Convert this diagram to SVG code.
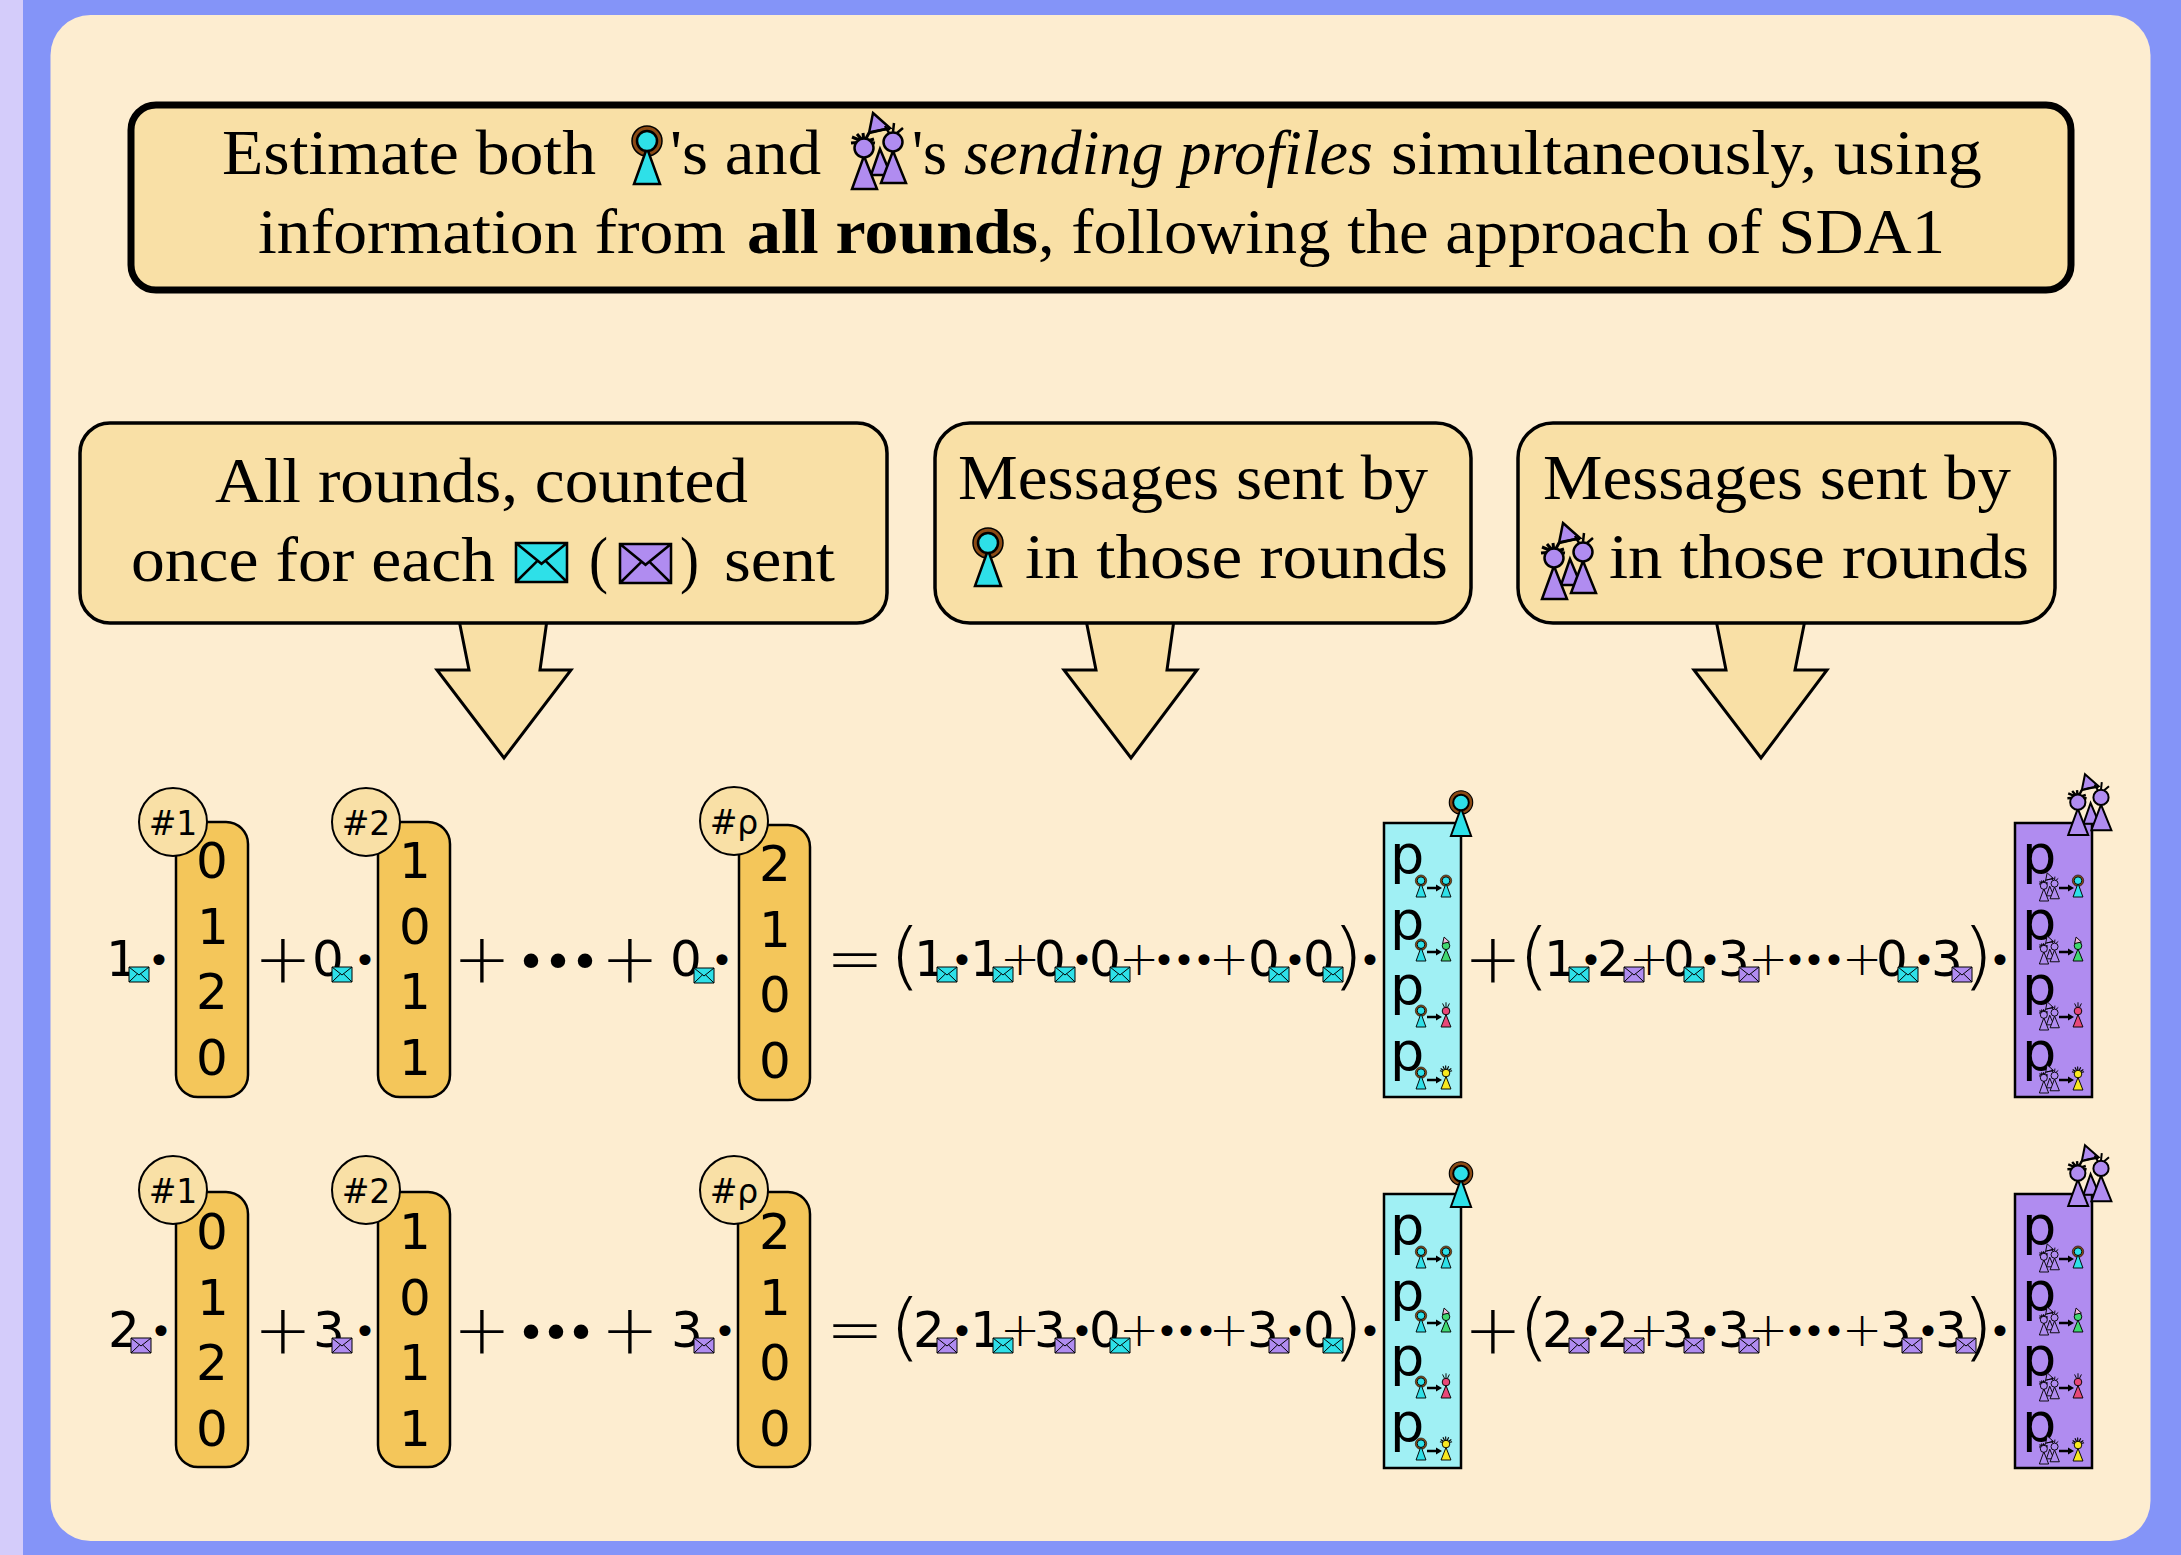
<svg xmlns="http://www.w3.org/2000/svg" xmlns:xlink="http://www.w3.org/1999/xlink" width="2181" height="1555" viewBox="0 0 2181 1555">
<style>
.s{font-family:"Liberation Serif",serif;font-size:64px;fill:#000}
.m{font-family:"DejaVu Sans",sans-serif;font-size:50px;fill:#000;text-anchor:middle}
.h{font-family:"DejaVu Sans",sans-serif;font-size:33px;fill:#000;text-anchor:middle}
.p{font-family:"DejaVu Sans",sans-serif;font-size:54px;fill:#000}
.d{font-family:"DejaVu Sans",sans-serif;font-size:38px;fill:#000;text-anchor:middle}
.e{font-family:"DejaVu Sans",sans-serif;font-size:50px;fill:#000;text-anchor:middle}
.pl{font-family:"DejaVu Sans",sans-serif;font-weight:200;font-size:69px;fill:#000;text-anchor:middle}
.sp{font-family:"DejaVu Sans",sans-serif;font-weight:200;font-size:48px;fill:#000;text-anchor:middle}
.br{font-family:"DejaVu Sans",sans-serif;font-weight:200;font-size:73px;fill:#000;text-anchor:middle}
.box{fill:#F9E0A6;stroke:#000;stroke-width:3.5}
.arw{fill:#F9E0A6;stroke:#000;stroke-width:3}
.bar{fill:#F4C65A;stroke:#000;stroke-width:2.5}
.tag{fill:#F9E0A6;stroke:#000;stroke-width:2}
.ln{stroke:#000;stroke-width:2.5;stroke-linejoin:miter}
.hr{stroke:#000;stroke-width:3;fill:none}
.cy{fill:#2EE0E8}.pu{fill:#B08CF0}
</style>
<defs>
<g id="env-l"><path d="M0 0H20V15H0ZM0 0L10 8L20 0M0 15L8.500 6.800M20 15L11.500 6.800" fill="none" stroke="#000" stroke-width="1"/></g>
<g id="envc"><rect width="20" height="15" class="cy"/><use xlink:href="#env-l"/></g>
<g id="envp"><rect width="20" height="15" class="pu"/><use xlink:href="#env-l"/></g>
<g id="alice"><circle cy="-43" r="15" fill="#8B4A14" stroke="#000" stroke-width="1.500"/><path d="M0 -36L-13 0H13Z" class="cy ln"/><circle cy="-43" r="10" class="cy ln"/></g>
<g id="green"><path d="M0 -32L-13 0H13Z" fill="#40D870" class="ln"/><circle cy="-40" r="10" fill="#40D870" class="ln"/><path d="M-5 -63L9 -50L-9 -46Z" fill="#F0B8D8" class="ln"/></g>
<g id="red"><path d="M0 -33L-13 0H13Z" fill="#E84878" class="ln"/><circle cy="-42" r="10" fill="#E84878" class="ln"/><path d="M-4 -52L-9 -62M4 -52L9 -62M0 -52V-65" class="ln" fill="none"/></g>
<g id="yellow"><path d="M0 -44L-16 -48M0 -44L-14 -54M0 -44L-8 -60M0 -44L-1 -62M0 -44L7 -60M0 -44L14 -54M0 -44L16 -48" class="hr"/><path d="M0 -33L-13 0H13Z" fill="#F8E820" class="ln"/><circle cy="-42" r="10" fill="#F8E820" class="ln"/></g>
<g id="trio">
<path d="M2 -40L-7 -14H13Z" class="pu ln"/><path d="M-5 -76L12 -61L-9 -56Z" class="pu ln"/><path d="M-7 -57Q6 -60 12 -60" class="ln" fill="none"/>
<path d="M-14 -47L-27 -46M-14 -47L-26 -52M-14 -47L-21 -55M-14 -47L-15 -56M-14 -47L-9 -56M-14 -47L-4 -50M-14 -47L-3 -46" class="hr"/>
<path d="M-14 -33L-26 0H-1Z" class="pu ln"/><circle cx="-14" cy="-41" r="9.500" class="pu ln"/>
<path d="M11 -56L7 -63M19 -56L25 -61M15 -57L16 -66" class="ln" fill="none"/>
<path d="M15 -38L3 -6H28Z" class="pu ln"/><circle cx="15" cy="-47" r="9.500" class="pu ln"/>
</g>
<g id="ar"><path d="M0 0H10" class="ln"/><path d="M9 -3.500L15 0L9 3.500Z"/></g>
<g id="cybox">
<rect x="1384" y="823" width="77" height="274" fill="#A0F0F4" stroke="#000" stroke-width="2.500"/>
<use xlink:href="#alice" transform="translate(1461 836) scale(.78)"/>
<text class="p" x="1390" y="873">p</text><text class="p" x="1390" y="939">p</text><text class="p" x="1390" y="1004">p</text><text class="p" x="1390" y="1070">p</text>
<use xlink:href="#alice" transform="translate(1421 897) scale(.38)"/><use xlink:href="#ar" x="1427" y="888"/><use xlink:href="#alice" transform="translate(1446 897) scale(.38)"/>
<use xlink:href="#alice" transform="translate(1421 961) scale(.38)"/><use xlink:href="#ar" x="1427" y="952"/><use xlink:href="#green" transform="translate(1446 961) scale(.38)"/>
<use xlink:href="#alice" transform="translate(1421 1027) scale(.38)"/><use xlink:href="#ar" x="1427" y="1017"/><use xlink:href="#red" transform="translate(1446 1027) scale(.38)"/>
<use xlink:href="#alice" transform="translate(1421 1089) scale(.38)"/><use xlink:href="#ar" x="1427" y="1080"/><use xlink:href="#yellow" transform="translate(1446 1089) scale(.38)"/>
</g>
<g id="pubox">
<rect x="2015" y="823" width="77" height="274" class="pu" stroke="#000" stroke-width="2.500"/>
<use xlink:href="#trio" transform="translate(2089 835) scale(.8)"/>
<text class="p" x="2022" y="873">p</text><text class="p" x="2022" y="939">p</text><text class="p" x="2022" y="1004">p</text><text class="p" x="2022" y="1070">p</text>
<use xlink:href="#trio" transform="translate(2049 901) scale(.37)"/><use xlink:href="#ar" x="2059" y="888"/><use xlink:href="#alice" transform="translate(2078 897) scale(.38)"/>
<use xlink:href="#trio" transform="translate(2049 964) scale(.37)"/><use xlink:href="#ar" x="2059" y="952"/><use xlink:href="#green" transform="translate(2078 961) scale(.38)"/>
<use xlink:href="#trio" transform="translate(2049 1030) scale(.37)"/><use xlink:href="#ar" x="2059" y="1017"/><use xlink:href="#red" transform="translate(2078 1027) scale(.38)"/>
<use xlink:href="#trio" transform="translate(2049 1093) scale(.37)"/><use xlink:href="#ar" x="2059" y="1080"/><use xlink:href="#yellow" transform="translate(2078 1090) scale(.38)"/>
</g>
</defs>

<rect width="2181" height="1555" fill="#8494F8"/>
<rect width="23" height="1555" fill="#D4CCFA"/>
<rect x="50.500" y="15" width="2100" height="1526" rx="40" fill="#FDEDD0"/>

<g id="title">
<rect x="131" y="105" width="1940" height="185" rx="25" fill="#F9E0A6" stroke="#000" stroke-width="7"/>
<text class="s" x="222" y="174" textLength="374" lengthAdjust="spacingAndGlyphs">Estimate both</text>
<use xlink:href="#alice" transform="translate(647 184)"/>
<text class="s" x="670" y="174" textLength="151" lengthAdjust="spacingAndGlyphs">'s and</text>
<use xlink:href="#trio" transform="translate(878 189)"/>
<text class="s" x="912" y="174" textLength="35" lengthAdjust="spacingAndGlyphs">'s</text>
<text class="s" x="964" y="174" textLength="409" lengthAdjust="spacingAndGlyphs" font-style="italic">sending profiles</text>
<text class="s" x="1391" y="174" textLength="591" lengthAdjust="spacingAndGlyphs">simultaneously, using</text>
<text class="s" x="258" y="253" textLength="468" lengthAdjust="spacingAndGlyphs">information from</text>
<text class="s" x="747" y="253" textLength="291" lengthAdjust="spacingAndGlyphs" font-weight="bold">all rounds</text>
<text class="s" x="1038" y="253" textLength="907" lengthAdjust="spacingAndGlyphs">, following the approach of SDA1</text>
</g>

<g id="callout-rounds">
<path d="M459 620L469 670H437L504 758L571 670H540L547 620Z" class="arw"/>
<rect x="80" y="423" width="807" height="200" rx="30" class="box"/>
<text class="s" x="215" y="502" textLength="533" lengthAdjust="spacingAndGlyphs">All rounds, counted</text>
<text class="s" x="131" y="581" textLength="364" lengthAdjust="spacingAndGlyphs">once for each</text>
<use xlink:href="#envc" transform="translate(516 543) scale(2.550 2.600)"/>
<text class="s" x="589" y="581" textLength="19" lengthAdjust="spacingAndGlyphs">(</text>
<use xlink:href="#envp" transform="translate(620 544) scale(2.550 2.600)"/>
<text class="s" x="680" y="581" textLength="19" lengthAdjust="spacingAndGlyphs">)</text>
<text class="s" x="724" y="581" textLength="111" lengthAdjust="spacingAndGlyphs">sent</text>
</g>
<g id="callout-alice">
<path d="M1086 620L1096 670H1064L1131 758L1197 670H1167L1174 620Z" class="arw"/>
<rect x="935" y="423" width="536" height="200" rx="35" class="box"/>
<text class="s" x="958" y="499" textLength="470" lengthAdjust="spacingAndGlyphs">Messages sent by</text>
<use xlink:href="#alice" transform="translate(988 586)"/>
<text class="s" x="1025" y="578" textLength="423" lengthAdjust="spacingAndGlyphs">in those rounds</text>
</g>
<g id="callout-group">
<path d="M1716 620L1726 670H1694L1761 758L1827 670H1795L1805 620Z" class="arw"/>
<rect x="1518" y="423" width="537" height="200" rx="35" class="box"/>
<text class="s" x="1543" y="499" textLength="468" lengthAdjust="spacingAndGlyphs">Messages sent by</text>
<use xlink:href="#trio" transform="translate(1568 599)"/>
<text class="s" x="1609" y="578" textLength="420" lengthAdjust="spacingAndGlyphs">in those rounds</text>
</g>

<g id="row-1">
<g id="r1-col1"><rect x="176" y="822" width="72" height="275" rx="22" class="bar"/><circle cx="173" cy="822" r="34" class="tag"/><text class="h" x="173" y="835">#1</text>
<text class="m" x="212" y="878">0</text><text class="m" x="213" y="944">1</text><text class="m" x="212" y="1009">2</text><text class="m" x="212" y="1075">0</text></g>
<g id="r1-col2"><rect x="378" y="822" width="72" height="275" rx="22" class="bar"/><circle cx="366" cy="822" r="34" class="tag"/><text class="h" x="366" y="835">#2</text>
<text class="m" x="415" y="878">1</text><text class="m" x="415" y="944">0</text><text class="m" x="415" y="1009">1</text><text class="m" x="415" y="1075">1</text></g>
<g id="r1-col3"><rect x="739" y="825" width="71" height="275" rx="22" class="bar"/><circle cx="734" cy="821" r="34" class="tag"/><text class="h" x="734" y="834">#ρ</text>
<text class="m" x="775" y="881">2</text><text class="m" x="775" y="947">1</text><text class="m" x="775" y="1012">0</text><text class="m" x="775" y="1078">0</text></g>
<g id="r1-left">
<text class="m" x="122" y="976">1</text><use xlink:href="#envc" x="129" y="967"/><text class="d" x="159" y="974">•</text>
<text class="pl" x="283" y="982">+</text>
<text class="m" x="328" y="976">0</text><use xlink:href="#envc" x="332" y="967"/><text class="d" x="365" y="974">•</text>
<text class="pl" x="482" y="982">+</text>
<text class="e" x="531 558 585" y="979">•••</text>
<text class="pl" x="630" y="982">+</text>
<text class="m" x="686" y="976">0</text><use xlink:href="#envc" x="694" y="968"/><text class="d" x="722" y="974">•</text>
</g>
<g id="r1-mid">
<text class="pl" x="855" y="982">=</text>
<text class="br" transform="translate(905 981) scale(1.120 1)">(</text>
<text class="m" x="930" y="976">1</text><use xlink:href="#envc" x="937" y="967"/><text class="d" x="962" y="974">•</text>
<text class="m" x="986" y="976">1</text><use xlink:href="#envc" x="993" y="967"/>
<text class="sp" x="1020" y="975">+</text>
<text class="m" x="1050" y="976">0</text><use xlink:href="#envc" x="1055" y="967"/><text class="d" x="1082" y="974">•</text>
<text class="m" x="1105" y="976">0</text><use xlink:href="#envc" x="1110" y="967"/>
<text class="sp" x="1139" y="975">+</text>
<text class="d" x="1164 1184 1204" y="974">•••</text>
<text class="sp" x="1229" y="975">+</text>
<text class="m" x="1264" y="976">0</text><use xlink:href="#envc" x="1269" y="967"/><text class="d" x="1295" y="974">•</text>
<text class="m" x="1319" y="976">0</text><use xlink:href="#envc" x="1323" y="967"/>
<text class="br" transform="translate(1348 981) scale(1.120 1)">)</text><text class="d" x="1370" y="974">•</text>
</g>
<use xlink:href="#cybox"/>
<g id="r1-right">
<text class="pl" x="1493" y="982">+</text>
<text class="br" transform="translate(1534 981) scale(1.120 1)">(</text>
<text class="m" x="1560" y="976">1</text><use xlink:href="#envc" x="1569" y="967"/><text class="d" x="1591" y="974">•</text>
<text class="m" x="1613" y="976">2</text><use xlink:href="#envp" x="1624" y="967"/>
<text class="sp" x="1649" y="975">+</text>
<text class="m" x="1679" y="976">0</text><use xlink:href="#envc" x="1684" y="967"/><text class="d" x="1710" y="974">•</text>
<text class="m" x="1734" y="976">3</text><use xlink:href="#envp" x="1739" y="967"/>
<text class="sp" x="1768" y="975">+</text>
<text class="d" x="1795 1814 1834" y="974">•••</text>
<text class="sp" x="1862" y="975">+</text>
<text class="m" x="1892" y="976">0</text><use xlink:href="#envc" x="1898" y="967"/><text class="d" x="1924" y="974">•</text>
<text class="m" x="1947" y="976">3</text><use xlink:href="#envp" x="1952" y="967"/>
<text class="br" transform="translate(1978 981) scale(1.120 1)">)</text><text class="d" x="2000" y="974">•</text>
</g>
<use xlink:href="#pubox"/>
</g>

<g id="row-2">
<g id="r2-col1"><rect x="176" y="1192" width="72" height="275" rx="22" class="bar"/><circle cx="173" cy="1190" r="34" class="tag"/><text class="h" x="173" y="1203">#1</text>
<text class="m" x="212" y="1249">0</text><text class="m" x="213" y="1315">1</text><text class="m" x="212" y="1380">2</text><text class="m" x="212" y="1446">0</text></g>
<g id="r2-col2"><rect x="378" y="1192" width="72" height="275" rx="22" class="bar"/><circle cx="366" cy="1190" r="34" class="tag"/><text class="h" x="366" y="1203">#2</text>
<text class="m" x="415" y="1249">1</text><text class="m" x="415" y="1315">0</text><text class="m" x="415" y="1380">1</text><text class="m" x="415" y="1446">1</text></g>
<g id="r2-col3"><rect x="738" y="1192" width="72" height="275" rx="22" class="bar"/><circle cx="734" cy="1190" r="34" class="tag"/><text class="h" x="734" y="1203">#ρ</text>
<text class="m" x="775" y="1249">2</text><text class="m" x="775" y="1315">1</text><text class="m" x="775" y="1380">0</text><text class="m" x="775" y="1446">0</text></g>
<g id="r2-left">
<text class="m" x="124" y="1347">2</text><use xlink:href="#envp" x="131" y="1338"/><text class="d" x="161" y="1345">•</text>
<text class="pl" x="283" y="1353">+</text>
<text class="m" x="329" y="1347">3</text><use xlink:href="#envp" x="332" y="1338"/><text class="d" x="365" y="1345">•</text>
<text class="pl" x="482" y="1353">+</text>
<text class="e" x="531 556 581" y="1350">•••</text>
<text class="pl" x="630" y="1353">+</text>
<text class="m" x="687" y="1347">3</text><use xlink:href="#envp" x="694" y="1338"/><text class="d" x="725" y="1345">•</text>
</g>
<g id="r2-mid">
<text class="pl" x="855" y="1353">=</text>
<text class="br" transform="translate(905 1352) scale(1.120 1)">(</text>
<text class="m" x="929" y="1347">2</text><use xlink:href="#envp" x="937" y="1338"/><text class="d" x="962" y="1345">•</text>
<text class="m" x="986" y="1347">1</text><use xlink:href="#envc" x="993" y="1338"/>
<text class="sp" x="1020" y="1346">+</text>
<text class="m" x="1050" y="1347">3</text><use xlink:href="#envp" x="1055" y="1338"/><text class="d" x="1082" y="1345">•</text>
<text class="m" x="1105" y="1347">0</text><use xlink:href="#envc" x="1110" y="1338"/>
<text class="sp" x="1139" y="1346">+</text>
<text class="d" x="1167 1186 1206" y="1345">•••</text>
<text class="sp" x="1229" y="1346">+</text>
<text class="m" x="1263" y="1347">3</text><use xlink:href="#envp" x="1269" y="1338"/><text class="d" x="1295" y="1345">•</text>
<text class="m" x="1319" y="1347">0</text><use xlink:href="#envc" x="1323" y="1338"/>
<text class="br" transform="translate(1348 1352) scale(1.120 1)">)</text><text class="d" x="1370" y="1345">•</text>
</g>
<use xlink:href="#cybox" y="371"/>
<g id="r2-right">
<text class="pl" x="1493" y="1353">+</text>
<text class="br" transform="translate(1534 1352) scale(1.120 1)">(</text>
<text class="m" x="1558" y="1347">2</text><use xlink:href="#envp" x="1569" y="1338"/><text class="d" x="1591" y="1345">•</text>
<text class="m" x="1613" y="1347">2</text><use xlink:href="#envp" x="1624" y="1338"/>
<text class="sp" x="1649" y="1346">+</text>
<text class="m" x="1678" y="1347">3</text><use xlink:href="#envp" x="1684" y="1338"/><text class="d" x="1710" y="1345">•</text>
<text class="m" x="1734" y="1347">3</text><use xlink:href="#envp" x="1739" y="1338"/>
<text class="sp" x="1768" y="1346">+</text>
<text class="d" x="1795 1814 1834" y="1345">•••</text>
<text class="sp" x="1862" y="1346">+</text>
<text class="m" x="1896" y="1347">3</text><use xlink:href="#envp" x="1902" y="1338"/><text class="d" x="1928" y="1345">•</text>
<text class="m" x="1951" y="1347">3</text><use xlink:href="#envp" x="1956" y="1338"/>
<text class="br" transform="translate(1978 1352) scale(1.120 1)">)</text><text class="d" x="2000" y="1345">•</text>
</g>
<use xlink:href="#pubox" y="371"/>
</g>
</svg>
